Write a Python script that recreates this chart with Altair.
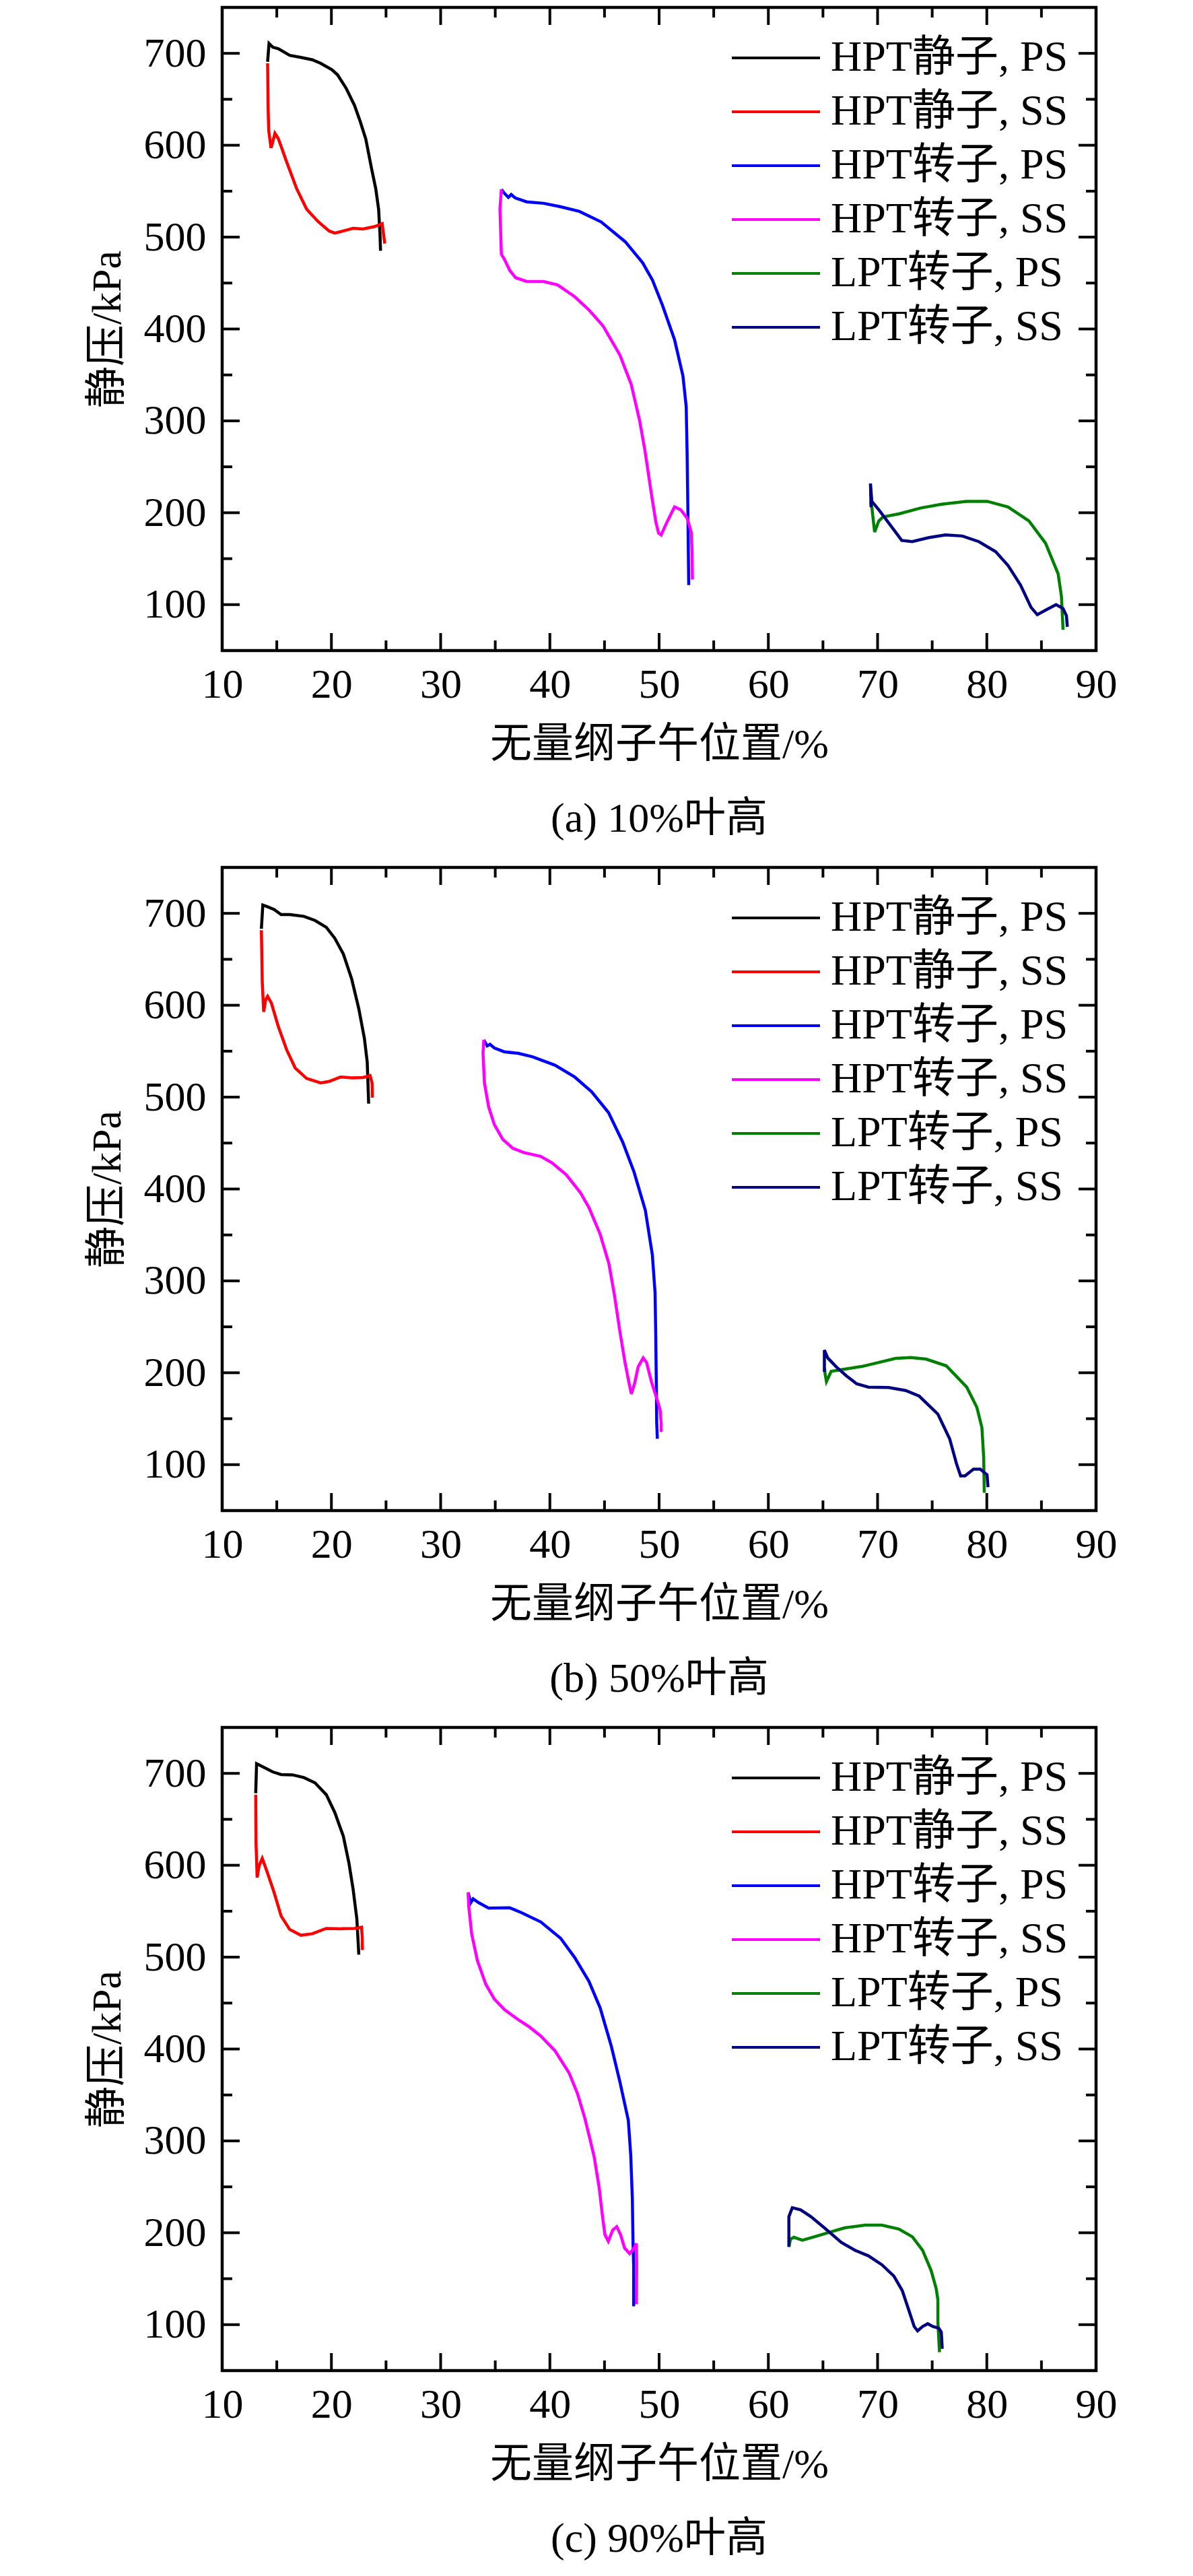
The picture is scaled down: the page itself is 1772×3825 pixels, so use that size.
import altair as alt
import pandas as pd

NAMES = ["HPT静子, PS", "HPT静子, SS", "HPT转子, PS", "HPT转子, SS", "LPT转子, PS", "LPT转子, SS"]
COLORS = ["#000000", "#FF0000", "#0000FF", "#FF00FF", "#008000", "#000080"]
CAPTIONS = ["(a) 10%叶高", "(b) 50%叶高", "(c) 90%叶高"]
X_TITLE = "无量纲子午位置/%"
Y_TITLE = "静压/kPa"
X_MAJOR = [10, 20, 30, 40, 50, 60, 70, 80, 90]
X_MINOR = [15, 25, 35, 45, 55, 65, 75, 85]
Y_MAJOR = [100, 200, 300, 400, 500, 600, 700]
Y_MINOR = [150, 250, 350, 450, 550, 650]

# ---------- (a) 10% span ----------
A_HS_PS_X = [14.16, 14.29, 14.63, 15.14, 16.18, 17.21, 18.24, 19.02, 20.05, 20.57, 21.34, 22.12, 22.64, 23.15, 23.67, 24.06, 24.32, 24.44, 24.50]
A_HS_PS_Y = [690.8, 710.8, 706.7, 705.1, 697.8, 695.6, 693.0, 689.2, 682.2, 676.5, 662.2, 643.2, 625.7, 606.7, 574.9, 552.7, 530.5, 505.1, 485.1]
A_HS_SS_X = [14.16, 14.21, 14.26, 14.47, 14.63, 14.83, 15.14, 15.92, 16.82, 17.73, 18.76, 19.79, 20.31, 21.09, 21.99, 22.89, 23.93, 24.65, 24.75, 24.88]
A_HS_SS_Y = [689.2, 638.4, 616.2, 597.1, 603.5, 613.0, 607.3, 581.3, 552.7, 530.5, 517.1, 506.7, 504.4, 506.7, 509.5, 508.9, 511.4, 514.6, 505.1, 493.0]
A_HR_PS_X = [35.56, 35.81, 36.20, 36.46, 36.85, 37.88, 39.43, 40.98, 42.70, 44.70, 46.90, 48.50, 49.40, 50.30, 51.41, 52.18, 52.48, 52.56, 52.63, 52.71]
A_HR_PS_Y = [552.1, 548.0, 543.2, 546.3, 542.5, 538.4, 536.8, 533.0, 528.0, 516.5, 495.0, 472.0, 453.0, 426.0, 388.5, 349.0, 315.6, 267.0, 206.3, 121.3]
A_HR_SS_X = [35.56, 35.43, 35.56, 35.81, 36.33, 36.85, 37.88, 39.43, 40.72, 42.27, 43.57, 44.86, 46.41, 47.44, 48.22, 48.70, 49.30, 49.70, 49.95, 50.19, 50.65, 51.41, 51.98, 52.56, 52.94, 53.02, 53.05]
A_HR_SS_Y = [552.1, 530.5, 481.3, 476.5, 463.8, 455.9, 451.7, 451.7, 447.9, 435.2, 420.9, 403.5, 371.7, 340.0, 300.0, 268.0, 220.0, 190.0, 178.0, 175.9, 188.1, 206.3, 203.3, 194.2, 179.0, 157.7, 127.3]
A_LR_PS_X = [69.38, 69.47, 69.73, 70.11, 70.50, 72.02, 73.93, 75.84, 78.13, 80.04, 81.95, 83.85, 85.38, 86.53, 86.83, 86.98]
A_LR_PS_Y = [212.0, 206.3, 179.0, 191.1, 195.4, 199.0, 205.1, 209.3, 212.4, 212.4, 206.3, 191.1, 166.8, 133.4, 109.1, 72.7]
A_LR_SS_X = [69.40, 69.35, 69.47, 70.11, 71.07, 72.21, 73.17, 74.69, 76.22, 77.75, 79.27, 80.80, 81.95, 83.09, 84.05, 84.62, 85.38, 86.34, 86.98, 87.29, 87.37]
A_LR_SS_Y = [206.0, 231.8, 212.4, 203.3, 188.1, 169.9, 168.6, 172.9, 175.9, 174.7, 168.6, 157.7, 142.5, 121.3, 97.0, 89.1, 94.0, 100.0, 95.8, 87.9, 75.8]

# ---------- (b) 50% span ----------
B_HS_PS_X = [13.59, 13.72, 14.11, 14.75, 15.40, 16.18, 17.47, 18.50, 19.53, 20.31, 21.09, 21.86, 22.51, 23.02, 23.28, 23.41]
B_HS_PS_Y = [683.2, 709.0, 707.4, 704.2, 698.7, 698.7, 696.8, 692.3, 684.8, 672.9, 655.8, 628.4, 596.1, 563.9, 538.1, 492.9]
B_HS_SS_X = [13.59, 13.67, 13.80, 13.98, 14.16, 14.50, 15.14, 15.92, 16.69, 17.73, 19.02, 19.79, 20.83, 21.86, 22.89, 23.54, 23.72, 23.75]
B_HS_SS_Y = [681.6, 625.2, 592.9, 605.8, 609.7, 602.6, 576.8, 551.0, 531.6, 520.3, 515.5, 517.1, 521.9, 521.0, 521.3, 523.5, 515.5, 499.4]
B_HR_PS_X = [33.95, 34.26, 34.52, 34.91, 35.81, 37.10, 38.40, 40.46, 42.27, 43.82, 45.37, 46.67, 47.70, 48.74, 49.38, 49.63, 49.69, 49.75, 49.78, 49.84]
B_HR_PS_Y = [562.3, 555.8, 557.4, 553.5, 549.4, 547.7, 543.9, 534.8, 521.9, 505.8, 483.2, 451.0, 418.7, 376.8, 328.4, 287.0, 243.0, 181.9, 145.2, 128.1]
B_HR_SS_X = [33.95, 33.88, 34.01, 34.39, 34.91, 35.68, 36.59, 37.62, 39.17, 40.21, 41.50, 42.79, 43.57, 44.60, 45.40, 45.91, 46.37, 46.84, 47.24, 47.46, 47.77, 48.08, 48.54, 48.85, 49.32, 49.78, 50.09, 50.19, 50.19]
B_HR_SS_Y = [562.3, 547.7, 515.5, 489.7, 470.3, 454.2, 444.5, 439.7, 435.5, 428.4, 415.5, 396.1, 380.0, 350.9, 319.0, 284.6, 247.9, 213.7, 189.2, 177.0, 189.2, 206.4, 216.1, 211.2, 189.2, 172.1, 159.9, 145.2, 135.5]
B_LR_PS_X = [65.15, 65.19, 65.32, 65.75, 66.68, 68.54, 70.09, 71.64, 73.04, 74.43, 76.29, 78.16, 79.09, 79.55, 79.71, 79.77]
B_LR_PS_Y = [205.0, 199.0, 190.5, 201.5, 203.4, 206.8, 211.2, 215.6, 216.6, 214.9, 207.6, 184.4, 162.3, 140.3, 108.6, 69.4]
B_LR_SS_X = [65.13, 65.13, 65.44, 66.22, 67.15, 68.08, 69.16, 71.02, 72.57, 73.81, 75.52, 76.60, 77.22, 77.60, 78.00, 78.78, 79.40, 80.02, 80.11]
B_LR_SS_Y = [201.0, 224.7, 216.1, 206.4, 196.6, 188.0, 184.4, 183.9, 180.7, 174.6, 155.0, 128.1, 101.2, 87.8, 87.8, 95.1, 95.1, 89.0, 75.5]

# ---------- (c) 90% span ----------
C_HS_PS_X = [13.07, 13.15, 13.85, 14.63, 15.40, 16.43, 17.47, 18.50, 19.53, 20.31, 21.09, 21.60, 21.99, 22.33, 22.51]
C_HS_PS_Y = [678.4, 710.6, 706.4, 701.6, 698.7, 698.4, 695.5, 689.7, 676.8, 657.5, 631.7, 602.7, 573.7, 541.5, 502.8]
C_HS_SS_X = [13.07, 13.10, 13.20, 13.38, 13.67, 14.11, 14.75, 15.40, 16.18, 17.21, 18.24, 19.53, 20.83, 22.12, 22.76, 22.82, 22.84]
C_HS_SS_Y = [676.8, 623.6, 586.6, 599.5, 607.5, 593.0, 570.5, 544.7, 530.2, 523.8, 525.4, 531.2, 530.9, 531.2, 532.5, 522.2, 507.7]
C_HR_PS_X = [32.51, 32.76, 32.97, 33.49, 34.39, 36.33, 37.36, 39.17, 40.98, 42.27, 43.57, 44.60, 45.63, 46.41, 47.18, 47.40, 47.55, 47.61, 47.67, 47.67]
C_HR_PS_Y = [570.5, 559.2, 563.4, 559.2, 553.4, 553.7, 548.6, 538.3, 520.6, 499.6, 473.8, 444.8, 402.8, 364.3, 322.4, 285.0, 237.1, 190.7, 163.9, 120.0]
C_HR_SS_X = [32.51, 32.58, 32.84, 33.36, 34.13, 34.91, 35.81, 37.11, 38.14, 39.17, 40.47, 41.76, 42.53, 43.18, 43.65, 44.05, 44.51, 44.82, 45.04, 45.35, 45.75, 46.12, 46.47, 46.84, 47.30, 47.71, 47.92, 47.95, 47.92]
C_HR_SS_Y = [570.5, 554.4, 525.4, 496.4, 470.6, 454.5, 443.2, 431.9, 423.9, 414.2, 398.1, 374.0, 351.4, 325.6, 303.0, 283.0, 249.3, 217.6, 198.0, 190.7, 202.9, 206.6, 198.0, 183.4, 177.3, 183.4, 188.3, 163.9, 122.4]
C_LR_PS_X = [61.88, 62.03, 62.34, 63.12, 64.20, 65.44, 66.99, 68.85, 70.40, 71.95, 73.19, 74.12, 74.90, 75.36, 75.52, 75.52, 75.67]
C_LR_PS_Y = [184.6, 193.2, 195.1, 191.9, 195.6, 200.0, 205.4, 208.3, 208.3, 204.1, 195.6, 181.0, 159.0, 139.5, 127.3, 102.9, 70.0]
C_LR_SS_X = [61.88, 61.88, 62.19, 62.96, 63.89, 65.13, 66.68, 67.92, 69.16, 70.40, 71.49, 72.26, 72.88, 73.35, 73.66, 74.12, 74.59, 75.05, 75.61, 75.83, 75.92]
C_LR_SS_Y = [184.6, 217.6, 227.3, 224.9, 217.6, 205.4, 189.5, 181.0, 174.9, 165.1, 152.9, 137.1, 115.1, 98.0, 93.2, 98.0, 101.0, 98.0, 96.1, 92.0, 73.7]

PANELS = [
    [(A_HS_PS_X, A_HS_PS_Y), (A_HS_SS_X, A_HS_SS_Y), (A_HR_PS_X, A_HR_PS_Y),
     (A_HR_SS_X, A_HR_SS_Y), (A_LR_PS_X, A_LR_PS_Y), (A_LR_SS_X, A_LR_SS_Y)],
    [(B_HS_PS_X, B_HS_PS_Y), (B_HS_SS_X, B_HS_SS_Y), (B_HR_PS_X, B_HR_PS_Y),
     (B_HR_SS_X, B_HR_SS_Y), (B_LR_PS_X, B_LR_PS_Y), (B_LR_SS_X, B_LR_SS_Y)],
    [(C_HS_PS_X, C_HS_PS_Y), (C_HS_SS_X, C_HS_SS_Y), (C_HR_PS_X, C_HR_PS_Y),
     (C_HR_SS_X, C_HR_SS_Y), (C_LR_PS_X, C_LR_PS_Y), (C_LR_SS_X, C_LR_SS_Y)],
]

W, H = 1298, 955
FONT = "Liberation Serif, Noto Sans CJK SC"
FS = 62
LFS = 64
MAJ, MIN = 26, 15
TK = 4

xs = alt.Scale(domain=[10, 90], nice=False, zero=False)
ys = alt.Scale(domain=[50, 750], nice=False, zero=False)
xaxis = alt.Axis(values=X_MAJOR, format="d", title=X_TITLE, ticks=False, domain=False, grid=False,
                 labelFlush=False, labelOverlap=False, labelPadding=20, titlePadding=28)
yaxis = alt.Axis(values=Y_MAJOR, format="d", title=Y_TITLE, ticks=False, domain=False, grid=False,
                 labelFlush=False, labelOverlap=False, labelPadding=24, titlePadding=22)


def panel(series, caption):
    rows = []
    for name, (xv, yv) in zip(NAMES, series):
        for k, (a, b) in enumerate(zip(xv, yv)):
            rows.append({"x": a, "y": b, "s": name, "i": k})
    df = pd.DataFrame(rows)
    lines = alt.Chart(df).mark_line(strokeWidth=4.5, clip=True).encode(
        x=alt.X("x:Q", scale=xs, axis=xaxis),
        y=alt.Y("y:Q", scale=ys, axis=yaxis),
        color=alt.Color("s:N", scale=alt.Scale(domain=NAMES, range=COLORS),
                        legend=alt.Legend(title=None, orient="none", legendX=755, legendY=35,
                                          symbolType="stroke", symbolSize=17161, symbolStrokeWidth=4,
                                          clipHeight=80, rowPadding=0, labelOffset=14,
                                          labelFontSize=LFS, labelFont=FONT, labelLimit=800,
                                          labelColor="black", padding=0)),
        order="i:Q",
    )
    layers = [lines]
    # inward ticks on all four sides, placed through the x / y scales
    for vals, ln in ((X_MAJOR, MAJ), (X_MINOR, MIN)):
        d = pd.DataFrame({"x": vals})
        layers.append(alt.Chart(d).mark_tick(color="black", thickness=TK, size=ln, orient="vertical", opacity=1).encode(
            x=alt.X("x:Q", scale=xs, axis=xaxis), y=alt.value(H - ln / 2)))
        layers.append(alt.Chart(d).mark_tick(color="black", thickness=TK, size=ln, orient="vertical", opacity=1).encode(
            x=alt.X("x:Q", scale=xs, axis=xaxis), y=alt.value(ln / 2)))
    for vals, ln in ((Y_MAJOR, MAJ), (Y_MINOR, MIN)):
        d = pd.DataFrame({"y": vals})
        layers.append(alt.Chart(d).mark_tick(color="black", thickness=TK, size=ln, orient="horizontal", opacity=1).encode(
            y=alt.Y("y:Q", scale=ys, axis=yaxis), x=alt.value(ln / 2)))
        layers.append(alt.Chart(d).mark_tick(color="black", thickness=TK, size=ln, orient="horizontal", opacity=1).encode(
            y=alt.Y("y:Q", scale=ys, axis=yaxis), x=alt.value(W - ln / 2)))
    return alt.layer(*layers).properties(
        width=W, height=H,
        title=alt.TitleParams(caption, orient="bottom", anchor="middle", fontSize=FS, font=FONT,
                              fontWeight="normal", color="black", offset=50),
    )


chart = alt.vconcat(*[panel(s, c) for s, c in zip(PANELS, CAPTIONS)], spacing=35).resolve_scale(
    color="independent", x="independent", y="independent"
).properties(padding={"left": 117, "top": 0, "right": 20, "bottom": 10}).configure_view(
    stroke="black", strokeWidth=4.5
).configure_axis(
    labelFont=FONT, labelFontSize=FS, labelColor="black",
    titleFont=FONT, titleFontSize=FS, titleFontWeight="normal", titleColor="black",
)

chart.save("out.html", embed_options={"renderer": "svg", "actions": False})
